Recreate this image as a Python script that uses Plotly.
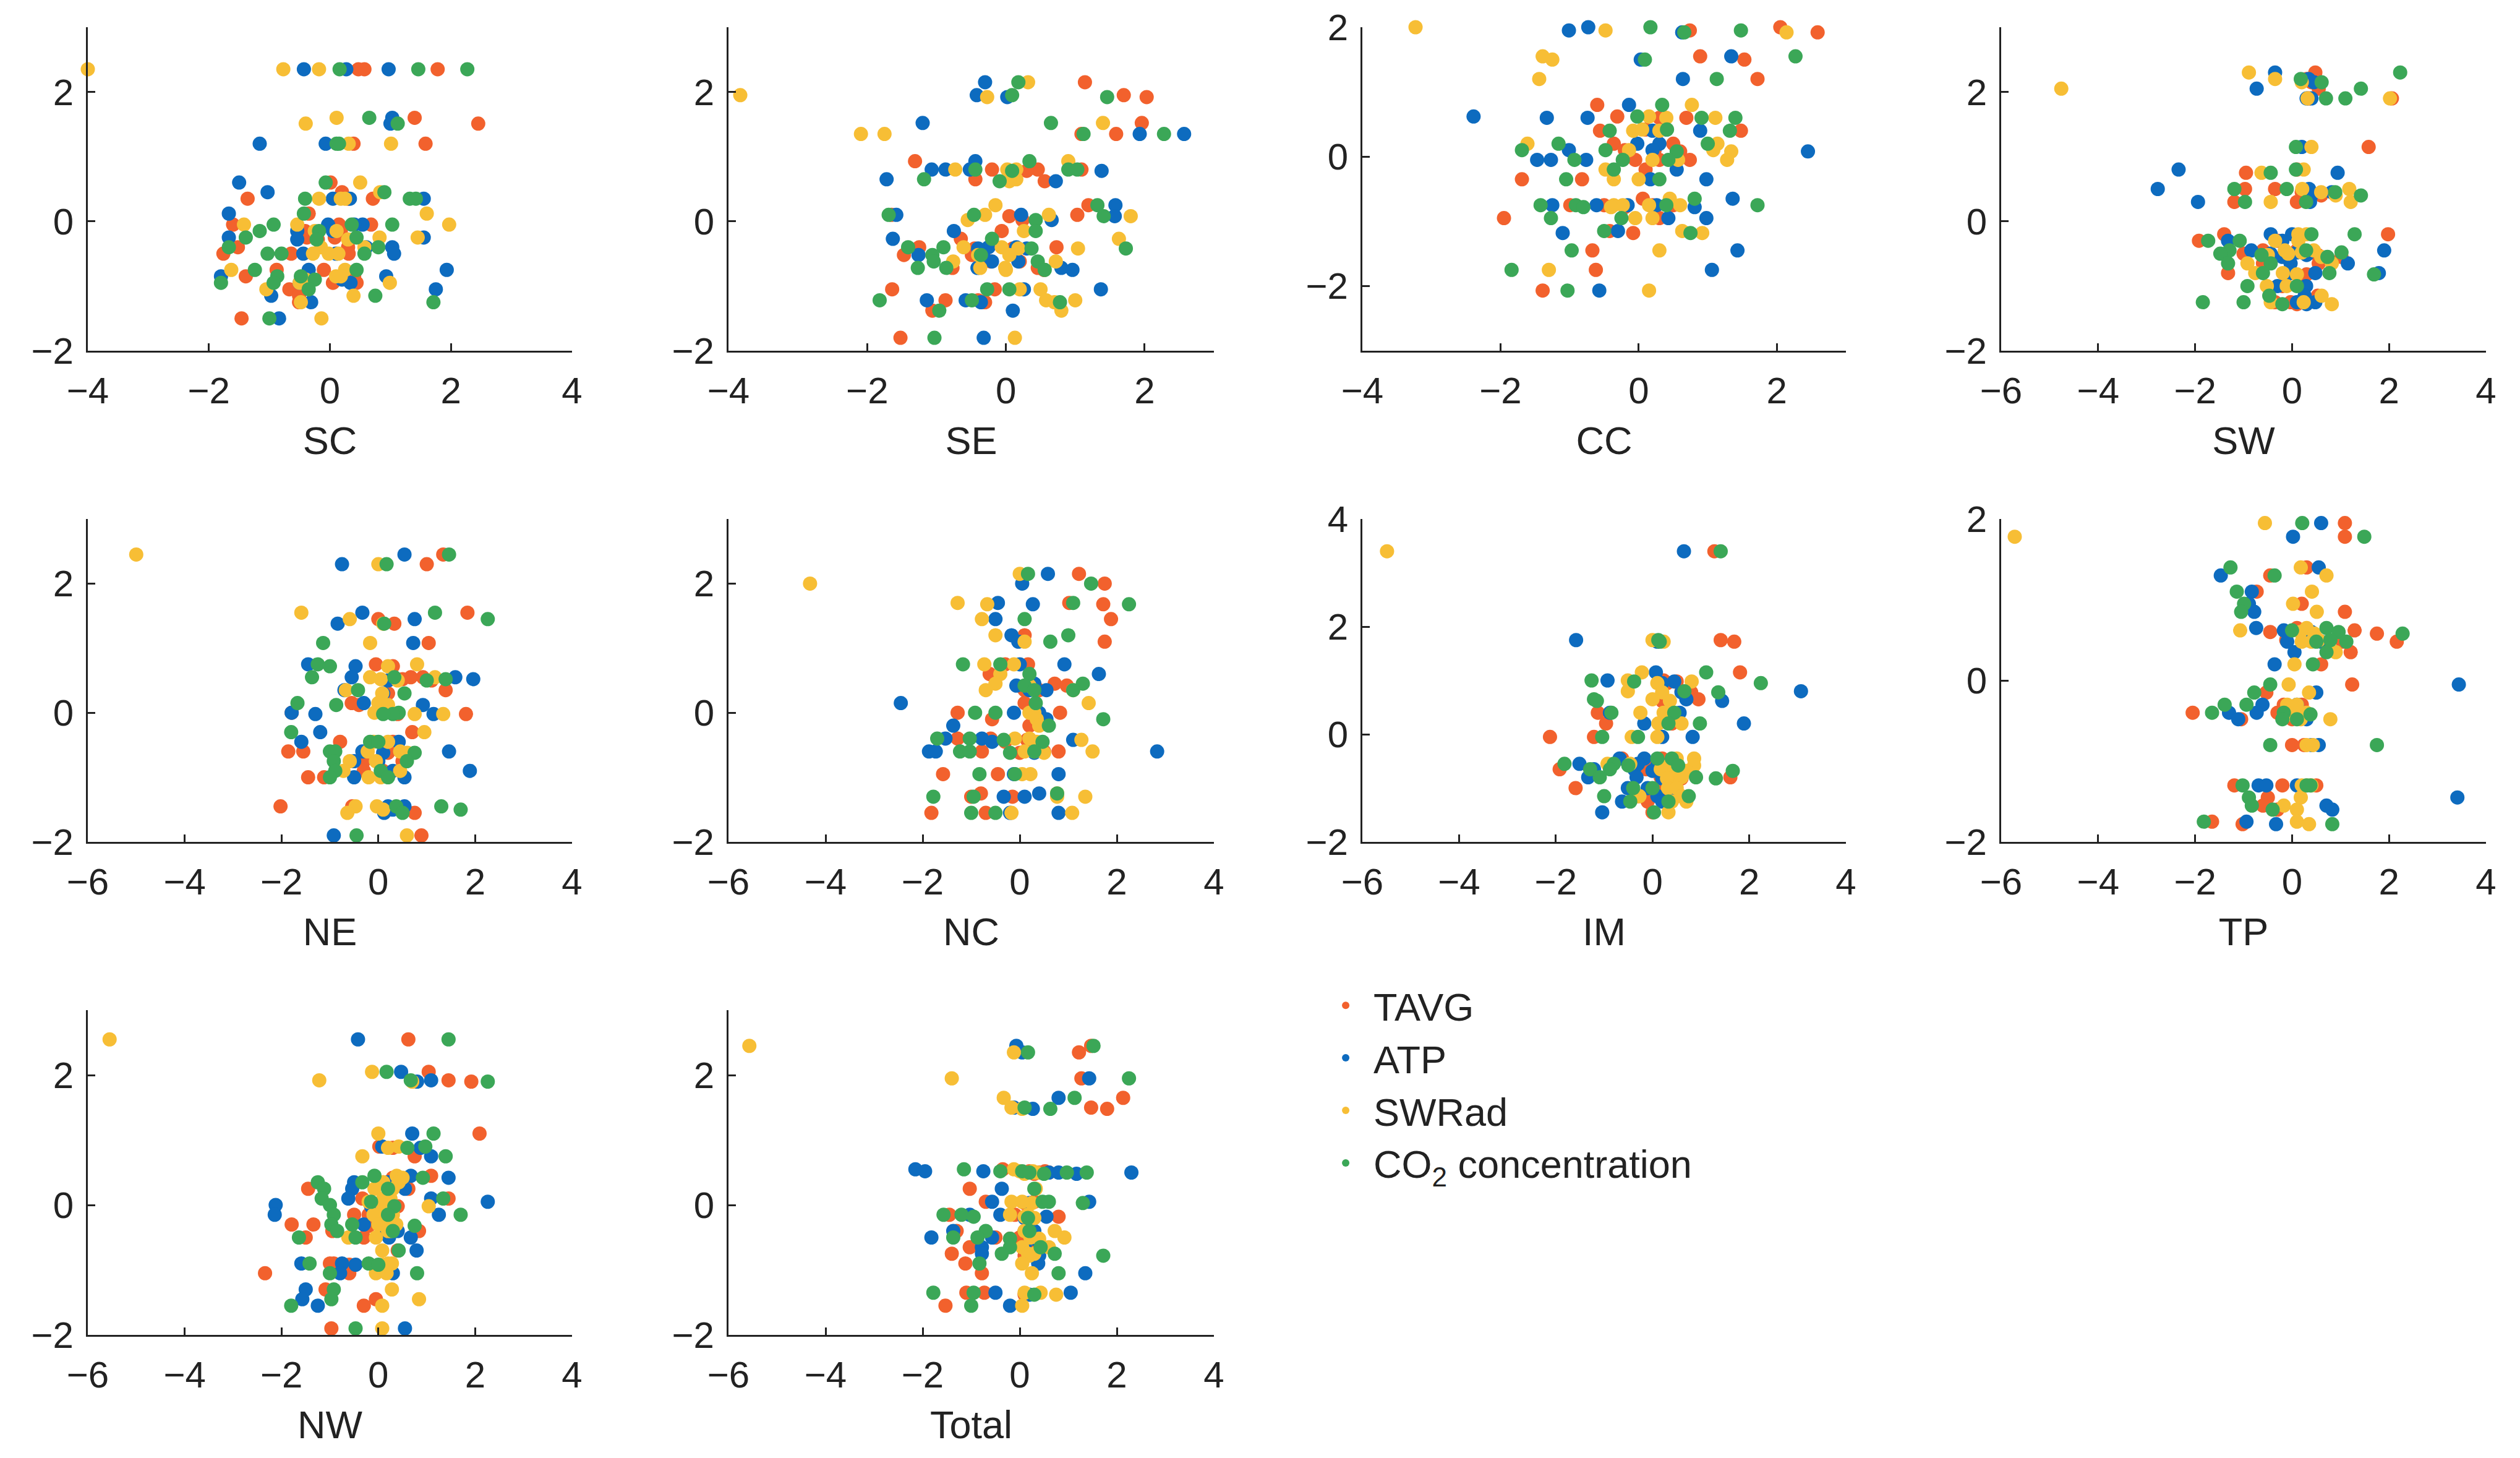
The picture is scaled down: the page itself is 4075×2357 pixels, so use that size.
import plotly.graph_objects as go

# every row: y, TAVG, ATP, SWRad, CO2 (x of each factor at that y)
SC = [
    (2.35, 0.47, -0.43, -4.00, 0.16), (2.35, 0.57, 0.27, -0.77, 1.46), (2.35, 1.78, 0.97, -0.18, 2.27),
    (1.60, 1.40, 1.03, 0.11, 0.65), (1.51, 2.45, 1.00, -0.40, 1.12), (1.20, 0.39, -0.07, 0.31, 0.11),
    (1.20, 1.58, -1.16, 1.01, 0.15), (0.60, 0.01, -1.50, 0.50, -0.07), (0.45, 0.20, -1.03, 0.83, 0.90),
    (0.35, -1.36, 0.05, -0.18, -0.41), (0.35, 0.71, 1.55, 0.18, 1.32), (0.35, 0.30, 0.33, 0.25, 1.42),
    (0.12, -0.35, -1.67, 1.60, -0.43), (-0.05, -1.60, -0.03, -1.42, -0.93), (-0.05, 0.68, 0.54, -0.54, 0.36),
    (-0.05, 0.15, 0.40, 1.97, 1.03), (-0.15, -0.41, -0.54, -0.25, -1.16), (-0.15, 0.18, 0.05, 0.11, -0.18),
    (-0.25, 0.08, -1.67, 0.82, -1.39), (-0.25, -0.38, 1.55, 1.45, 0.44), (-0.28, -0.20, -0.54, 0.30, -0.22),
    (-0.40, -1.52, 1.03, 0.57, -1.67), (-0.40, 0.30, 0.60, -0.15, 0.80), (-0.50, -1.76, -0.44, -0.28, -1.03),
    (-0.50, -0.64, 1.06, -0.02, -0.80), (-0.50, 0.31, 0.10, 0.14, 0.57), (-0.75, -0.88, -0.35, -1.63, -1.24),
    (-0.75, -0.10, 1.93, 0.25, 0.44), (-0.85, -1.39, -1.80, 0.18, -0.87), (-0.85, 0.40, 0.93, 0.10, -0.48),
    (-0.90, -0.30, 0.20, -0.40, -0.25), (-0.95, 0.05, 0.34, 0.99, -1.80), (-0.95, 0.44, -0.50, -0.50, -0.93),
    (-1.05, -0.67, 1.75, -1.05, -0.35), (-1.15, -0.51, -0.97, 0.39, 0.75), (-1.25, -0.51, -0.31, -0.48, 1.71),
    (-1.50, -1.46, -0.84, -0.14, -1.00),
]
SE = [
    (2.15, 1.14, -0.30, 0.32, 0.18), (1.95, 1.70, -0.42, -3.83, 0.09), (1.92, 2.03, 0.02, -0.27, 1.46),
    (1.52, 1.96, -1.20, 1.40, 0.65), (1.35, 1.09, 1.93, -2.09, 1.12), (1.35, 1.59, 2.57, -1.75, 2.28),
    (0.93, -1.31, -0.44, 0.90, 0.34), (0.80, -0.20, -1.07, -0.73, -0.44), (0.80, 0.46, -0.87, 0.02, 0.90),
    (0.80, 1.09, -0.52, 0.15, 1.03), (0.78, 0.30, 1.38, 0.10, 0.09), (0.65, -0.44, -1.72, 0.15, -1.18),
    (0.62, 0.56, 0.72, 0.05, -0.09), (0.25, 1.19, 1.58, -0.15, 1.32), (0.10, 1.03, -1.58, -0.30, -1.69),
    (0.10, -1.65, 0.22, 0.62, -0.46), (0.08, 0.05, 1.57, 1.80, 1.41), (0.02, 0.24, 0.66, -0.55, 0.43),
    (-0.15, -0.06, -0.75, 0.26, 0.43), (-0.27, -0.65, -1.63, 1.63, -0.20), (-0.40, -1.25, -0.25, -0.61, -1.41),
    (-0.40, 0.73, 0.15, -0.06, -0.90), (-0.42, -0.45, 0.30, 1.04, 0.37), (-0.42, 0.10, -0.40, 0.18, 1.73),
    (-0.52, -1.47, -1.26, 0.05, -1.06), (-0.52, -0.49, -0.33, -0.40, -0.36), (-0.62, -0.22, 0.18, -0.76, -1.04),
    (-0.62, 0.20, -0.20, 0.72, 0.46), (-0.72, -0.77, -0.41, -0.37, -1.27), (-0.72, 0.46, 0.80, -0.01, -0.86),
    (-0.75, 0.55, 0.96, 0.00, 0.56), (-1.05, -1.64, 0.26, 0.20, -0.27), (-1.05, -0.16, 1.37, 0.50, 0.05),
    (-1.22, -0.87, -1.14, 0.58, -1.82), (-1.22, -0.40, -0.58, 1.00, -0.49), (-1.25, -0.30, -0.36, 0.70, 0.78),
    (-1.38, -1.06, 0.10, 0.80, -0.96), (-1.80, -1.52, -0.32, 0.13, -1.03),
]
CC = [
    (2.00, 2.05, -0.73, -3.23, 0.17), (1.95, 0.74, -1.01, -0.48, 1.48), (1.92, 2.59, 0.63, 2.14, 0.66),
    (1.55, 0.89, 1.34, -1.39, 2.27), (1.50, 1.53, 0.03, -1.25, 0.09), (1.20, 1.72, 0.64, -1.44, 1.13),
    (0.80, -0.60, -0.14, 0.77, 0.34), (0.62, -0.31, -2.39, 0.15, -0.02), (0.60, 0.69, -1.33, 1.11, 0.91),
    (0.60, 0.30, -0.74, 0.40, 1.40), (0.40, -0.56, 0.89, -0.08, -0.42), (0.40, 1.48, 0.20, 0.30, 1.32),
    (0.42, 0.10, 0.40, 0.05, 0.41), (0.20, -0.36, -0.02, -1.61, -1.16), (0.20, 0.50, 0.30, 1.14, 1.00),
    (0.10, 0.23, -1.01, -0.14, -1.69), (0.10, -0.20, 0.20, 1.08, -0.48), (0.08, 0.60, 2.45, 1.34, 0.55),
    (-0.05, -0.05, -1.47, 0.57, -0.93), (-0.05, 0.74, -1.27, 1.28, -0.23), (-0.05, 0.30, -0.76, 0.20, 0.43),
    (-0.20, 0.10, 0.55, -0.48, -0.36), (-0.35, -1.69, 0.17, -0.36, -1.05), (-0.35, -0.82, 0.98, 0.00, 0.30),
    (-0.65, 0.06, 1.36, 0.45, 0.81), (-0.75, -0.99, -1.25, -0.36, -1.42), (-0.75, -0.50, -0.61, -0.23, -0.91),
    (-0.75, 0.20, -0.16, 0.60, 0.40), (-0.75, 0.50, 0.26, 0.15, 1.72), (-0.78, -0.20, 0.81, -0.40, -0.80),
    (-0.95, -1.95, 0.43, -0.05, -1.27), (-0.95, 0.30, 0.98, 0.20, -0.25), (-1.15, -0.42, -0.30, 0.63, -0.50),
    (-1.18, -0.08, -1.10, 0.92, 0.75), (-1.45, -0.67, 1.43, 0.30, -0.97), (-1.75, -0.62, 1.06, -1.30, -1.84),
    (-2.07, -1.39, -0.57, 0.15, -1.03),
]
SW = [
    (2.30, 0.48, -0.35, -0.89, 2.23), (2.20, 0.30, 0.34, -0.35, 0.18), (2.15, 0.40, 0.45, 0.20, 0.61),
    (2.05, 0.55, -0.73, -4.76, 1.42), (1.90, 2.06, 0.30, 2.02, 1.10), (1.90, 0.35, 0.40, 0.32, 0.70),
    (1.15, 1.58, 0.20, 0.40, 0.08), (0.80, 0.10, -2.34, 0.24, 0.08), (0.75, -0.95, 0.94, -0.63, -0.44),
    (0.50, -0.97, -2.77, 0.21, -1.19), (0.50, -0.35, 0.35, 1.18, -0.11), (0.45, 0.20, 0.82, 0.60, 0.89),
    (0.40, 0.60, 0.40, 0.90, 1.42), (0.30, -1.19, -1.94, -0.44, -0.97), (0.30, 0.10, 0.37, 1.21, 0.29),
    (-0.20, -1.40, -0.44, 0.13, 0.40), (-0.20, 1.98, 0.00, 0.30, 1.29), (-0.30, -1.92, -1.32, -0.35, -1.73),
    (-0.30, -0.30, -0.20, 0.13, -1.08), (-0.45, -0.60, -0.84, -0.15, -1.29), (-0.45, 0.10, 1.90, 0.45, 0.29),
    (-0.48, 0.40, 0.10, 0.20, 1.02), (-0.50, -1.00, -0.44, -0.08, -1.48), (-0.52, 0.53, 0.30, -0.50, -0.63),
    (-0.55, 1.02, -0.20, 0.60, 0.73), (-0.65, 0.55, -0.03, -0.92, -1.32), (-0.65, -0.60, 1.15, 0.82, -0.44),
    (-0.80, -1.32, 0.48, -0.76, -0.60), (-0.80, 0.00, 1.79, -0.19, 0.77), (-0.82, 0.30, -0.10, 0.10, 1.69),
    (-1.00, -0.20, 0.29, -0.52, -0.92), (-1.00, 0.20, -0.30, -0.11, 0.10), (-1.15, 0.53, 0.26, 0.61, -0.47),
    (-1.25, -0.35, 0.10, -0.44, -1.84), (-1.25, -0.03, 0.48, 0.24, -1.00), (-1.28, 0.10, 0.30, 0.82, -0.20),
]
NE = [
    (2.45, 1.34, 0.54, -5.00, 1.46), (2.30, 1.00, -0.75, 0.00, 0.17), (1.55, 1.84, -0.33, -1.59, 1.17),
    (1.45, 0.00, 0.75, -0.59, 2.26), (1.38, 0.33, -0.84, 0.10, 0.12), (1.08, 1.04, 0.72, -0.17, -1.14),
    (0.75, -0.05, -1.45, 0.80, -1.25), (0.72, 0.30, -0.47, 0.20, -1.00), (0.55, 0.67, -0.55, -0.17, -1.37),
    (0.55, 0.92, 1.59, 1.17, 0.33), (0.52, 0.50, 1.96, 0.05, 1.39), (0.50, 1.10, 0.20, 0.40, 1.00),
    (0.35, 1.39, -0.70, -0.67, -0.42), (0.30, 0.20, 0.10, 0.08, 0.54), (0.15, -0.55, -0.30, 0.00, -1.67),
    (0.12, -0.40, 0.92, 0.20, -0.87), (0.00, -1.79, -1.79, -0.08, 0.42), (-0.02, 1.81, -1.30, 0.75, 0.30),
    (-0.02, 0.40, 1.14, 1.34, 0.10), (-0.30, 0.70, -1.20, 0.95, -1.80), (-0.45, -0.79, -1.59, 0.20, -0.17),
    (-0.45, 0.30, 0.42, -0.10, 0.00), (-0.60, -1.86, -0.33, -0.22, -1.00), (-0.60, -1.55, 1.46, 0.45, -0.89),
    (-0.62, 0.20, 0.10, 0.60, 0.75), (-0.75, -0.30, -0.50, -0.59, -0.92), (-0.75, 0.50, 0.00, -0.05, 0.59),
    (-0.90, -0.30, 1.89, -0.72, -0.89), (-0.90, 0.10, 0.30, 0.45, 0.05), (-1.00, -1.45, -0.50, 0.05, -1.00),
    (-1.00, -1.12, 0.54, -0.20, 0.20), (-1.45, -2.02, 0.54, -0.47, 0.37), (-1.45, -0.54, 0.20, -0.03, 1.30),
    (-1.50, 0.20, 0.30, 0.10, 1.70), (-1.55, 0.75, 0.12, -0.64, 0.50), (-1.90, 0.89, -0.92, 0.59, -0.45),
]
NC = [
    (2.15, 1.22, 0.58, 0.00, 0.17), (2.00, 1.75, 0.05, -4.32, 1.47), (1.70, 1.02, -0.45, -1.28, 1.10),
    (1.68, 1.72, 0.27, -0.67, 2.25), (1.45, 1.88, -0.50, -0.78, 0.10), (1.20, 0.10, -0.17, -0.50, 1.00),
    (1.10, 1.75, -0.03, 0.10, 0.63), (0.75, 0.17, 0.92, -0.73, -1.17), (0.75, -0.30, 0.00, -0.12, -0.40),
    (0.60, -0.62, 1.63, -0.40, 0.20), (0.45, 0.72, 0.30, -0.50, 1.30), (0.42, 0.97, -0.07, 0.20, 0.10),
    (0.35, 0.40, 0.55, -0.70, 1.10), (0.35, 0.10, 0.20, 1.10, 0.30), (0.15, 0.10, -2.45, 1.42, 0.33),
    (0.00, -1.28, -0.12, 0.30, -0.92), (0.00, 0.83, 0.40, 0.20, -0.50), (-0.10, -0.57, 0.55, 0.35, 1.72),
    (-0.20, 0.20, -1.37, 0.40, 0.60), (-0.40, -1.28, -1.53, -0.10, -1.70), (-0.40, -0.60, -0.78, 0.20, -1.03),
    (-0.42, 0.15, 1.10, 1.27, -0.33), (-0.45, -0.30, -0.57, 0.35, 0.47), (-0.60, -0.78, -1.87, 1.50, -1.23),
    (-0.60, 0.80, -1.73, 0.30, -1.03), (-0.62, 0.00, 0.30, 0.50, -0.20), (-0.60, 0.50, 2.83, 0.10, 0.30),
    (-0.95, -1.58, -0.12, 0.22, -0.83), (-0.95, -0.45, 0.80, 0.05, -0.10), (-1.30, -0.15, -0.33, 1.35, -1.78),
    (-1.30, -1.00, 0.10, 0.77, -0.95), (-1.25, -0.80, 0.40, 0.77, 0.77), (-1.55, -1.82, 0.80, -0.17, -1.00),
    (-1.55, -0.70, -0.20, 1.08, -0.50),
]
IM = [
    (3.40, 1.28, 0.65, -5.49, 1.41), (1.75, 1.41, -1.58, 0.00, 0.12), (1.72, 1.69, 0.10, 0.23, 0.15),
    (1.15, 1.81, 0.07, -0.22, 1.11), (1.00, 0.23, -0.93, -0.51, -1.26), (0.98, 0.50, 0.45, 0.81, -0.38),
    (0.95, 0.30, 0.20, 0.10, 2.24), (0.80, 0.60, 3.07, -0.51, 0.66), (0.78, 0.80, 0.60, 0.20, 1.36),
    (0.65, 0.95, 0.70, 0.00, -1.21), (0.62, 0.20, 1.44, 0.36, -1.15), (0.40, -1.13, -0.88, -0.25, -0.85),
    (0.40, 0.30, 0.56, 0.23, 0.45), (0.20, -0.96, -0.17, 0.12, 0.33), (0.20, 0.40, 1.89, 0.60, 0.98),
    (-0.05, -2.12, 0.83, -0.43, -1.04), (-0.05, -1.21, 0.20, 0.10, -0.30), (-0.45, -0.63, -0.68, 0.86, 0.40),
    (-0.45, 0.20, -0.17, 0.50, 0.10), (-0.55, 0.00, -1.51, -0.93, -1.82), (-0.55, 0.40, -0.30, -0.46, -0.80),
    (-0.58, 0.30, 0.10, 0.33, 0.53), (-0.58, -0.20, 0.20, 0.86, -0.50), (-0.65, -1.92, -1.21, 0.17, -1.29),
    (-0.65, -0.13, -0.38, 0.56, -0.88), (-0.68, 0.50, 0.00, 0.70, 1.66), (-0.80, 0.17, -1.33, 0.45, -1.09),
    (-0.80, 1.61, -0.33, 0.60, 0.90), (-0.82, 0.60, 0.20, 0.30, 1.31), (-1.00, -1.59, -0.51, 0.32, -0.40),
    (-1.00, 0.20, -0.10, 0.50, 0.00), (-1.15, 0.15, 0.50, -0.27, -1.00), (-1.15, -0.30, 0.10, 0.60, 0.75),
    (-1.25, 0.30, -0.63, 0.70, -0.46), (-1.25, -0.10, 0.20, 0.40, 0.33), (-1.45, 0.00, -1.04, 0.33, 0.03),
]
TP = [
    (1.95, 1.09, 0.60, -0.56, 0.21), (1.78, 1.09, 0.02, -5.72, 1.49), (1.40, 0.30, 0.55, 0.18, -1.27),
    (1.30, -0.45, -1.47, 0.71, -0.36), (1.10, -0.73, -0.83, 0.41, -1.14), (0.95, 0.20, -0.89, 0.02, -0.99),
    (0.85, 1.09, -0.78, 0.51, -1.05), (0.65, 0.10, -0.74, 0.30, 0.71), (0.62, 1.29, -0.17, -1.07, 0.00),
    (0.60, -0.45, 0.40, 0.17, 0.96), (0.58, 1.75, 0.20, 0.46, 2.28), (0.50, -0.12, 0.30, 0.55, 0.79),
    (0.48, 1.04, 0.60, 0.20, 1.12), (0.48, 2.16, -0.10, 0.40, 0.50), (0.35, 1.21, 0.05, 0.90, 0.71),
    (0.20, 0.60, -0.36, 0.05, 0.43), (-0.05, 1.24, 3.44, -0.07, -0.45), (-0.15, -0.53, 0.50, 0.35, -0.78),
    (-0.30, -0.17, -0.61, 0.10, -1.39), (-0.30, 0.20, 0.10, -0.10, -0.94), (-0.40, -2.05, -1.30, 0.05, -1.65),
    (-0.40, -0.30, -0.73, 0.30, -0.17), (-0.42, 0.10, 0.20, -0.05, 0.38), (-0.48, -1.05, -1.11, 0.79, -0.20),
    (-0.48, 0.00, 0.30, 0.18, 0.10), (-0.80, 0.00, 0.55, 0.30, -0.45), (-0.80, 0.25, 0.40, 0.43, 1.75),
    (-1.30, -1.19, -0.69, 0.40, -1.02), (-1.30, -0.20, -0.53, 0.30, 0.38), (-1.30, 0.50, 0.10, 0.20, 0.30),
    (-1.45, -0.50, 3.41, 0.18, -0.89), (-1.55, -0.60, 0.71, -0.17, -0.83), (-1.60, -0.30, 0.83, 0.10, -0.40),
    (-1.75, -1.65, -0.94, 0.10, -1.82), (-1.78, -1.02, -0.33, 0.35, 0.83),
]
NW = [
    (2.55, 0.62, -0.42, -5.55, 1.45), (2.05, 1.04, 0.47, -0.13, 0.17), (1.92, 1.45, 1.09, -1.22, 0.67),
    (1.90, 1.92, 0.80, 0.70, 2.26), (1.10, 2.09, 0.70, 0.00, 1.14), (0.90, 0.02, 0.08, 0.42, 0.97),
    (0.88, 0.30, 0.87, 0.20, 0.60), (0.75, 0.75, 1.09, -0.33, 1.39), (0.45, 1.09, 0.67, 0.38, -0.08),
    (0.42, 0.30, 1.45, 0.50, 0.92), (0.35, 0.50, -0.50, 0.42, -1.25), (0.35, 0.10, 0.20, 0.10, -0.33),
    (0.25, -1.45, -0.54, -0.08, -1.12), (0.25, 0.62, 0.55, 0.30, 0.20), (0.10, -0.33, -0.62, 0.25, -1.17),
    (0.10, 1.45, 1.09, 0.10, 1.34), (0.05, 0.20, 2.26, -0.20, -0.15), (0.00, -0.10, -2.12, 0.08, -1.00),
    (-0.02, 0.40, -0.15, 1.04, 0.33), (-0.15, -0.50, -2.14, 0.30, -0.92), (-0.15, 0.20, 1.25, 0.05, 1.70),
    (-0.15, -0.20, 0.10, -0.10, 0.20), (-0.30, -1.79, -0.30, 0.00, -0.97), (-0.30, -1.34, 0.30, 0.37, -0.54),
    (-0.32, -0.20, 0.10, 0.20, 0.75), (-0.40, -0.95, 0.40, 0.20, -0.85), (-0.40, 0.84, 0.15, 0.25, 0.30),
    (-0.50, -1.50, 0.22, -0.62, -1.64), (-0.50, -0.30, 0.67, -0.05, -0.47), (-0.70, 0.40, 0.79, 0.08, 0.42),
    (-0.90, -0.92, -1.59, 0.28, -1.42), (-0.90, -1.00, -0.75, 0.20, -0.20), (-0.92, -0.60, -0.47, 0.10, 0.00),
    (-1.05, -2.34, -0.79, -0.05, -1.00), (-1.05, -0.60, 0.30, 0.17, 0.80), (-1.30, -1.09, -1.50, 0.28, -0.92),
    (-1.45, -0.05, -1.57, 0.84, -0.97), (-1.55, -0.30, -1.25, 0.08, -1.80), (-1.90, -0.97, 0.55, 0.08, -0.47),
]
TOTAL = [
    (2.45, 1.47, -0.07, -5.57, 1.52), (2.35, 1.22, 0.05, -0.12, 0.17), (1.95, 1.27, 1.43, -1.40, 2.25),
    (1.65, 2.13, 0.80, -0.33, 1.13), (1.50, 1.47, -0.12, -0.17, 0.10), (1.48, 1.80, 0.27, 0.05, 0.63),
    (0.55, -0.35, -2.15, -0.12, -1.15), (0.52, 0.52, -1.95, 0.27, -0.40), (0.52, 0.20, -0.75, 0.00, 0.05),
    (0.50, 0.40, 0.60, 0.20, 0.97), (0.50, 0.10, 0.80, 0.35, 1.38), (0.48, 0.30, 1.17, 0.10, 0.50),
    (0.50, 0.60, 2.30, 0.30, 0.20), (0.25, -1.03, -0.37, 0.33, 0.30), (0.05, -0.70, -0.57, -0.17, 0.47),
    (0.03, 0.10, 0.20, 0.25, 1.30), (0.05, 0.30, 1.43, 0.05, 0.60), (-0.15, -1.45, -1.03, 0.17, -1.57),
    (-0.15, -0.10, -0.40, -0.20, -1.20), (-0.18, 0.80, 0.55, 0.10, -0.95), (-0.20, 0.20, 0.10, 0.30, 0.17),
    (-0.40, -1.30, -1.37, 0.10, -0.70), (-0.40, 0.10, 0.30, 0.72, 0.20), (-0.50, -0.50, -1.82, 0.22, -1.37),
    (-0.50, 0.00, -0.57, 0.92, -0.87), (-0.52, -0.20, 0.30, 0.40, -0.20), (-0.65, -1.03, -0.78, 0.05, -0.20),
    (-0.65, 0.20, 0.10, 0.60, 0.43), (-0.75, -1.40, -0.78, 0.17, -0.37), (-0.75, 0.30, 0.20, 0.30, 0.72),
    (-0.78, 0.10, 0.40, 0.20, 1.72), (-0.90, -1.12, 0.38, 0.05, -0.83), (-1.05, -0.78, 1.35, 0.25, 0.80),
    (-1.35, -1.10, -0.50, 0.10, -1.78), (-1.35, -0.73, 1.05, 0.43, -0.95), (-1.38, 0.10, 0.20, 0.75, 0.30),
    (-1.55, -1.53, -0.20, 0.05, -1.00),
]

PANEL_NAMES = ["SC", "SE", "CC", "SW", "NE", "NC", "IM", "TP", "NW", "Total"]
PANEL_DATA = [SC, SE, CC, SW, NE, NC, IM, TP, NW, TOTAL]
X_RANGES = [[-4, 4], [-4, 3], [-4, 3], [-6, 4], [-6, 4], [-6, 4], [-6, 4], [-6, 4], [-6, 4], [-6, 4]]
Y_RANGES = [[-2, 3], [-2, 3], [-3, 2], [-2, 3], [-2, 3], [-2, 3], [-2, 4], [-2, 2], [-2, 3], [-2, 3]]
Y_TICKS = [[-2, 0, 2], [-2, 0, 2], [-2, 0, 2], [-2, 0, 2], [-2, 0, 2],
           [-2, 0, 2], [-2, 0, 2, 4], [-2, 0, 2], [-2, 0, 2], [-2, 0, 2]]

SERIES = ["TAVG", "ATP", "SWRad", "CO<sub>2</sub> concentration"]
COLORS = ["#F2612D", "#0D6BBF", "#F7BE35", "#3BA757"]

W, H = 4075, 2357
COLS = [(134, 917), (1170, 1955), (2195, 2977), (3228, 4012)]
ROWS = [(36, 559), (831, 1353), (1625, 2150)]

FONT = "Liberation Sans, Arial, sans-serif"
INK = "#222222"

fig = go.Figure()
layout = {}

for i, (name, rows) in enumerate(zip(PANEL_NAMES, PANEL_DATA)):
    n = i + 1
    xa = "x" if n == 1 else f"x{n}"
    ya = "y" if n == 1 else f"y{n}"
    ys = [r[0] for r in rows]
    for k in range(4):
        fig.add_trace(go.Scatter(
            x=[r[k + 1] for r in rows], y=ys,
            mode="markers",
            marker=dict(color=COLORS[k], size=23, line=dict(width=0)),
            name=SERIES[k], showlegend=(i == 0),
            cliponaxis=False, xaxis=xa, yaxis=ya,
        ))

    c0, c1 = COLS[i % 4]
    r0, r1 = ROWS[i // 4]
    lo, hi = X_RANGES[i]
    axis_common = dict(
        showline=True, linecolor=INK, linewidth=3, mirror=False,
        ticks="inside", ticklen=12, tickwidth=3, tickcolor=INK,
        showgrid=False, zeroline=False, automargin=False,
        tickfont=dict(family=FONT, size=60, color=INK),
    )
    layout["xaxis" if n == 1 else f"xaxis{n}"] = dict(
        axis_common,
        domain=[c0 / W, c1 / W], anchor=ya, range=X_RANGES[i],
        tickmode="array", tickvals=list(range(lo, hi + 1, 2)),
        ticklabelstandoff=10,
        title=dict(text=name, font=dict(family=FONT, size=63, color=INK), standoff=26),
    )
    layout["yaxis" if n == 1 else f"yaxis{n}"] = dict(
        axis_common,
        domain=[1 - r1 / H, 1 - r0 / H], anchor=xa, range=Y_RANGES[i],
        tickmode="array", tickvals=Y_TICKS[i],
        ticklabelstandoff=8,
    )

fig.update_layout(
    width=W, height=H,
    margin=dict(l=0, r=0, t=0, b=0),
    paper_bgcolor="white", plot_bgcolor="white",
    font=dict(family=FONT, color=INK),
    legend=dict(
        x=0.521, y=0.334, xanchor="left", yanchor="top",
        font=dict(family=FONT, size=63, color=INK),
        bgcolor="rgba(0,0,0,0)", itemsizing="constant", itemwidth=80,
    ),
    **layout,
)

fig.write_html("out.html", config={"displayModeBar": False})
